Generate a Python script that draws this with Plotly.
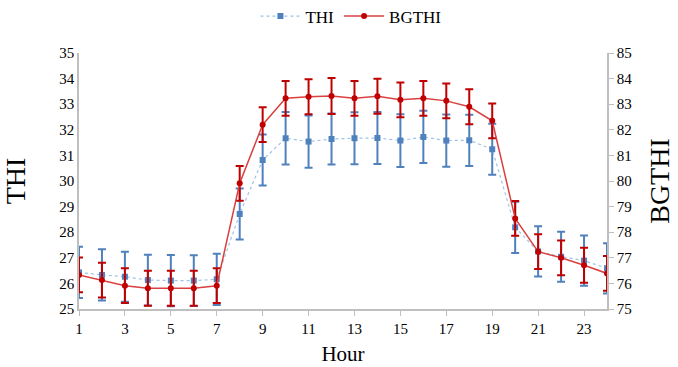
import plotly.graph_objects as go
from plotly.subplots import make_subplots

hours = list(range(1, 25))
thi = [26.43, 26.33, 26.26, 26.13, 26.11, 26.11, 26.16, 28.71, 30.82, 31.67, 31.54, 31.64,
       31.67, 31.68, 31.58, 31.72, 31.58, 31.59, 31.24, 28.19, 27.25, 27.04, 26.89, 26.59]
thi_err = [1.0, 1.0, 0.98, 0.99, 1.0, 0.99, 1.0, 1.0, 1.0, 1.03, 1.02, 1.0,
           1.02, 1.02, 1.03, 1.02, 1.02, 1.0, 1.0, 1.0, 0.98, 0.98, 0.98, 0.98]
bgthi = [76.33, 76.13, 75.91, 75.81, 75.81, 75.81, 75.91, 79.91, 82.2, 83.23, 83.29, 83.32,
         83.23, 83.31, 83.17, 83.23, 83.13, 82.9, 82.35, 78.54, 77.24, 77.0, 76.71, 76.39]
bgthi_err = [0.68, 0.68, 0.68, 0.68, 0.68, 0.68, 0.68, 0.68, 0.68, 0.68, 0.68, 0.7,
             0.68, 0.68, 0.68, 0.68, 0.68, 0.68, 0.68, 0.68, 0.68, 0.68, 0.68, 0.68]
x_ticks = [1, 3, 5, 7, 9, 11, 13, 15, 17, 19, 21, 23]

blue = "#4F81BD"
red = "#C00000"
font_family = "Times New Roman, Liberation Serif, serif"

fig = make_subplots(specs=[[{"secondary_y": True}]])

fig.add_trace(go.Scatter(
    x=hours, y=thi, name="THI", mode="lines+markers",
    line=dict(color="#9DC3E6", width=1.2, dash="dot"),
    marker=dict(symbol="square", size=6, color=blue),
    error_y=dict(type="data", array=thi_err, visible=True, color=blue, thickness=2, width=4),
), secondary_y=False)

fig.add_trace(go.Scatter(
    x=hours, y=bgthi, name="BGTHI", mode="lines+markers",
    line=dict(color="#D9403F", width=1.5),
    marker=dict(symbol="circle", size=6, color=red),
    error_y=dict(type="data", array=bgthi_err, visible=True, color=red, thickness=2, width=4),
), secondary_y=True)

fig.update_layout(
    width=678, height=367,
    margin=dict(l=79, r=71, t=53, b=58, autoexpand=False),
    paper_bgcolor="white", plot_bgcolor="white",
    font=dict(family=font_family, color="black", size=15),
    showlegend=True,
    legend=dict(orientation="h", x=0.515, xanchor="center", y=0.955, yanchor="middle",
                yref="container", font=dict(size=17, family=font_family), itemwidth=40),
)

fig.update_xaxes(
    domain=[0, 1],
    range=[1, 24], tickvals=x_ticks, ticktext=[str(v) for v in x_ticks],
    showline=True, linecolor="#BFBFBF", linewidth=1.5,
    ticks="outside", tickcolor="#BFBFBF", ticklen=5,
    showgrid=False, zeroline=False,
    title=dict(text="Hour", font=dict(size=21, family=font_family), standoff=11),
    tickfont=dict(size=15, family=font_family),
)

fig.update_yaxes(
    range=[25, 35], dtick=1, showline=True, linecolor="#BFBFBF", linewidth=1.5,
    showgrid=False, zeroline=False, ticks="",
    title=dict(text="THI", font=dict(size=28, family=font_family), standoff=26),
    tickfont=dict(size=15, family=font_family),
    secondary_y=False,
)
fig.update_yaxes(
    range=[75, 85], dtick=1, showline=True, linecolor="#BFBFBF", linewidth=1.5,
    showgrid=False, zeroline=False, ticks="outside", tickcolor="#BFBFBF", ticklen=5,
    title=dict(text="BGTHI", font=dict(size=28, family=font_family), standoff=18),
    tickfont=dict(size=15, family=font_family),
    secondary_y=True,
)

fig.write_html("out.html", config={"displayModeBar": False},
               post_script="document.body.style.margin='0';")
